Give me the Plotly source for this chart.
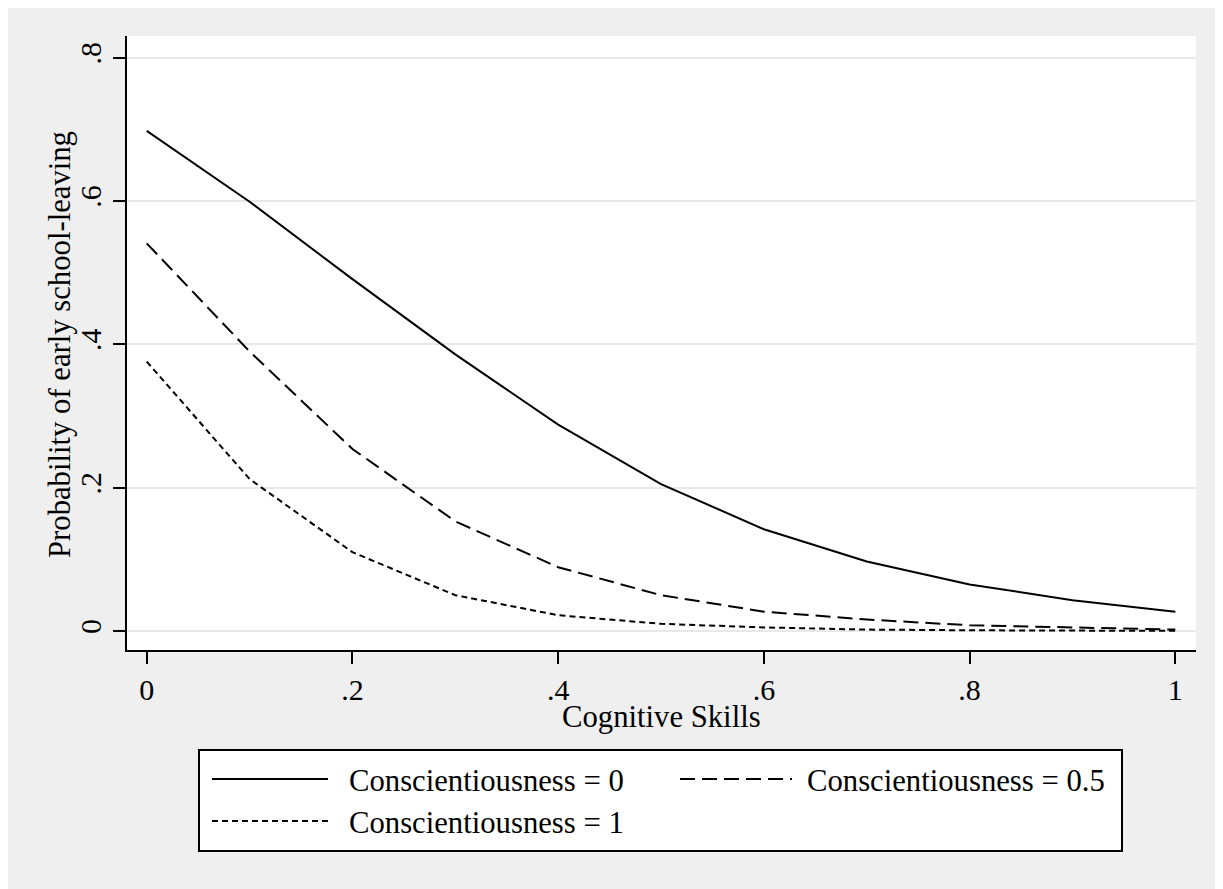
import plotly.graph_objects as go

# ---- data ----
cognitive_skills = [0.0, 0.1, 0.2, 0.3, 0.4, 0.5, 0.6, 0.7, 0.8, 0.9, 1.0]
consc_0 = [0.698, 0.599, 0.491, 0.386, 0.288, 0.205, 0.142, 0.097, 0.065, 0.043, 0.027]
consc_05 = [0.541, 0.390, 0.254, 0.153, 0.089, 0.050, 0.027, 0.016, 0.008, 0.005, 0.002]
consc_1 = [0.376, 0.212, 0.110, 0.050, 0.022, 0.010, 0.005, 0.002, 0.001, 0.0005, 0.0002]

series_names = ["Conscientiousness = 0", "Conscientiousness = 0.5", "Conscientiousness = 1"]
series_values = [consc_0, consc_05, consc_1]
series_dash = ["solid", "15px,7px", "6px,4px"]

x_tickvals = [0, 0.2, 0.4, 0.6, 0.8, 1.0]
x_ticktext = ["0", ".2", ".4", ".6", ".8", "1"]
y_tickvals = [0, 0.2, 0.4, 0.6, 0.8]
y_ticktext = ["0", ".2", ".4", ".6", ".8"]
x_title = "Cognitive Skills"
y_title = "Probability of early school-leaving"

FONT = "Liberation Serif, Times New Roman, serif"
BG = "#efefef"
TXT = 30.7

fig = go.Figure()
for name, vals, dash in zip(series_names, series_values, series_dash):
    fig.add_trace(go.Scatter(
        x=cognitive_skills, y=vals, mode="lines", name=name,
        line=dict(color="black", width=2, dash=dash),
        showlegend=False,
    ))

# page offset of the figure (browser body margin)
OFF = 8
W, H = 1223 - OFF, 889 - OFF
# plot area in page pixels: left 127, right 1196, top 36, bottom 650
ML, MR, MT, MB = 127 - OFF, W - (1196 - OFF), 36 - OFF, H - (650 - OFF)
pw, ph = W - ML - MR, H - MT - MB


def px_x(p):
    return (p - OFF - ML) / pw


def px_y(p):
    return (H - MB - (p - OFF)) / ph


shapes = []
annotations = []
# legend box (Stata style: long line samples, boxed)
shapes.append(dict(type="rect", xref="paper", yref="paper",
                   x0=px_x(199), x1=px_x(1122), y0=px_y(851), y1=px_y(750),
                   line=dict(color="black", width=2), fillcolor="white", layer="above"))
entry_pos = [(212, 328, 347, 781), (680, 792, 805, 781), (212, 328, 347, 823)]
for (sx0, sx1, tx, ry), name, dash in zip(entry_pos, series_names, series_dash):
    shapes.append(dict(type="line", xref="paper", yref="paper",
                       x0=px_x(sx0), x1=px_x(sx1), y0=px_y(ry - 2), y1=px_y(ry - 2),
                       line=dict(color="black", width=2, dash=dash)))
    annotations.append(dict(xref="paper", yref="paper", x=px_x(tx), y=px_y(ry),
                            text=name, showarrow=False, xanchor="left", yanchor="middle",
                            font=dict(family=FONT, size=TXT, color="black")))

# axis titles
annotations.append(dict(xref="paper", yref="paper", x=0.5, y=px_y(717),
                        text=x_title, showarrow=False, xanchor="center", yanchor="middle",
                        font=dict(family=FONT, size=TXT, color="black")))
annotations.append(dict(xref="paper", yref="paper", x=px_x(60), y=px_y(345),
                        text=y_title, textangle=-90, showarrow=False,
                        xanchor="center", yanchor="middle",
                        font=dict(family=FONT, size=TXT, color="black")))

fig.update_layout(
    width=W, height=H,
    margin=dict(l=ML, r=MR, t=MT, b=MB, autoexpand=False),
    paper_bgcolor=BG, plot_bgcolor="white",
    font=dict(family=FONT, size=30, color="black"),
    shapes=shapes, annotations=annotations,
    showlegend=False,
)
fig.update_xaxes(
    range=[-0.0192, 1.0201], tickvals=x_tickvals, ticktext=x_ticktext,
    showgrid=False, zeroline=False,
    showline=True, linecolor="black", linewidth=2,
    ticks="outside", ticklen=12, tickwidth=2, tickcolor="black",
    tickfont=dict(family=FONT, size=30, color="black"),
)
fig.update_yaxes(
    range=[-0.0265, 0.8303], tickvals=y_tickvals, ticktext=y_ticktext,
    tickangle=-90,
    showgrid=True, gridcolor="#e8e8e8", gridwidth=2, zeroline=False,
    showline=True, linecolor="black", linewidth=2,
    ticks="outside", ticklen=12, tickwidth=2, tickcolor="black",
    tickfont=dict(family=FONT, size=30, color="black"),
)

fig.write_html("out.html")
